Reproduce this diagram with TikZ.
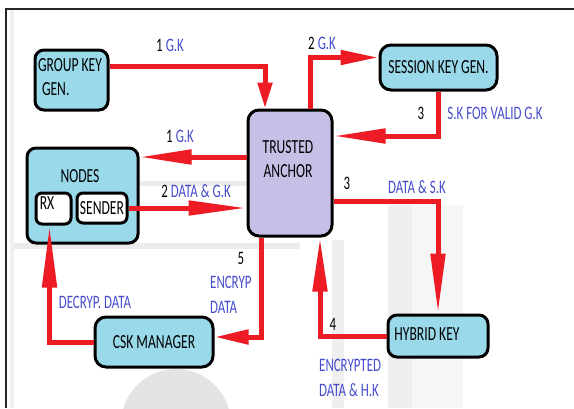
\documentclass[tikz,border=0pt]{standalone}
\usepackage{fontspec}
\setmainfont{Carlito}[FakeStretch=0.68]
\usetikzlibrary{arrows.meta}
\definecolor{cyanbox}{RGB}{153,217,234}
\definecolor{lav}{RGB}{200,191,231}
\definecolor{ared}{RGB}{237,28,36}
\definecolor{lblue}{RGB}{70,76,204}
\definecolor{ghost}{RGB}{224,224,224}
\begin{document}
\begin{tikzpicture}[x=1pt,y=-1pt,
  box/.style={draw=black, line width=3pt, rounded corners=9pt, fill=cyanbox, inner sep=0pt,
    font=\fontsize{20}{24}\selectfont},
  txt/.style={inner sep=0pt, font=\fontsize{20}{24}\selectfont},
  lab/.style={inner sep=0pt, font=\fontsize{19}{25}\selectfont},
  blab/.style={lab, text=lblue},
  conn/.style={draw=ared, line width=5pt},
  hd/.style={-{Triangle[length=#1,width=14pt]}},
  hd/.default=40pt]
\useasboundingbox (0,0) rectangle (574,408);
\begin{scope}
\clip (0,0) rectangle (574,408);
% faint background remnants
\fill[ghost!60] (12,243) rectangle (300,249);
\fill[ghost!60] (140,181) rectangle (248,186);
\fill[ghost!50] (388,205) rectangle (412,408);
\fill[ghost!30] (412,205) rectangle (463,408);
\fill[ghost!50] (332,240) rectangle (344,408);
\fill[ghost!90] (176,424) circle (55);
\fill[ghost!50] (10,9) rectangle (14,408);
% frame
\draw[line width=1.5pt, black!85] (6,408) -- (6,9) -- (574,9);
\end{scope}

% boxes
\node[box, minimum width=73pt, minimum height=60pt] (gk) at (71.5,80) {};
\node[txt, align=left] (gktext) at (70,77) {GROUP KEY\\\hspace{4pt}GEN.};
\node[box, minimum width=111pt, minimum height=95pt] (nodes) at (82.5,195.5) {};
\node[txt] (nodestext) at (80,176) {NODES};
\node[box, fill=white, minimum width=35pt, minimum height=31pt, rounded corners=6pt] (rx) at (53.5,208.5) {};
\node[txt] (rxtext) at (47,203) {RX};
\node[box, fill=white, minimum width=50pt, minimum height=30pt, rounded corners=6pt] (sender) at (102,208) {SENDER};
\node[box, fill=lav, minimum width=84pt, minimum height=126pt, rounded corners=11pt] (ta) at (290,173) {};
\node[txt, align=center] (tatext) at (288,159) {TRUSTED\\ANCHOR};
\node[box, minimum width=117pt, minimum height=45pt, rounded corners=11pt] (sk) at (438.5,67.5) {SESSION KEY GEN.};
\node[box, minimum width=100pt, minimum height=42pt] (hk) at (438,336) {};
\node[txt] (hktext) at (427,334) {HYBRID KEY};
\node[box, minimum width=118pt, minimum height=50pt, rounded corners=11pt] (csk) at (154,342) {CSK MANAGER};

% connectors
\draw[conn, hd=26pt] ([yshift=14pt]gk.east) -| ([xshift=-25pt]ta.north);
\draw[conn, hd=38pt] ([xshift=20pt]ta.north) |- ([yshift=10pt]sk.west);
\draw[conn, hd=52pt] (sk.south) |- ([yshift=37pt]ta.east);
\draw[conn, hd=52pt] ([yshift=16pt]ta.west) -- ([yshift=38.5pt]nodes.east);
\draw[conn, hd=58pt] (sender.east) -- (sender.east -| ta.west);
\draw[conn, hd=60pt] ([yshift=-28pt]ta.east) -| (hk.north);
\draw[conn, hd=54pt] (hk.west) -| ([xshift=30pt]ta.south);
\draw[conn, hd=34pt] ([xshift=-29pt]ta.south) |- ([yshift=5pt]csk.east);
\draw[conn, hd=62pt] (csk.west) -| ([xshift=-4pt]rx.south);

% labels
\node[lab] (l1) at (170,45) {1\,\textcolor{lblue}{G.K}};
\node[lab] (l2) at (322,43) {2\,\textcolor{lblue}{G.K}};
\node[lab] (l3n) at (421,113) {3};
\node[blab] (l3) at (495,113) {S.K FOR VALID G.K};
\node[lab] (l4) at (180,136) {1\,\textcolor{lblue}{G.K}};
\node[lab] (l5) at (196,191) {2\,\textcolor{lblue}{DATA \& G.K}};
\node[lab] (l6n) at (347,183) {3};
\node[blab] (l6) at (417,187) {DATA \& S.K};
\node[lab] (l7n) at (241,258) {5};
\node[blab, align=left, anchor=west] (l7) at (210,295) {ENCRYP\\DATA};
\node[blab] (l8) at (95,302) {DECRYP. DATA};
\node[lab] (l9n) at (333,324) {4};
\node[blab, align=left, anchor=west] (l9) at (319,378) {ENCRYPTED\\DATA \& H.K};
\end{tikzpicture}
\end{document}
